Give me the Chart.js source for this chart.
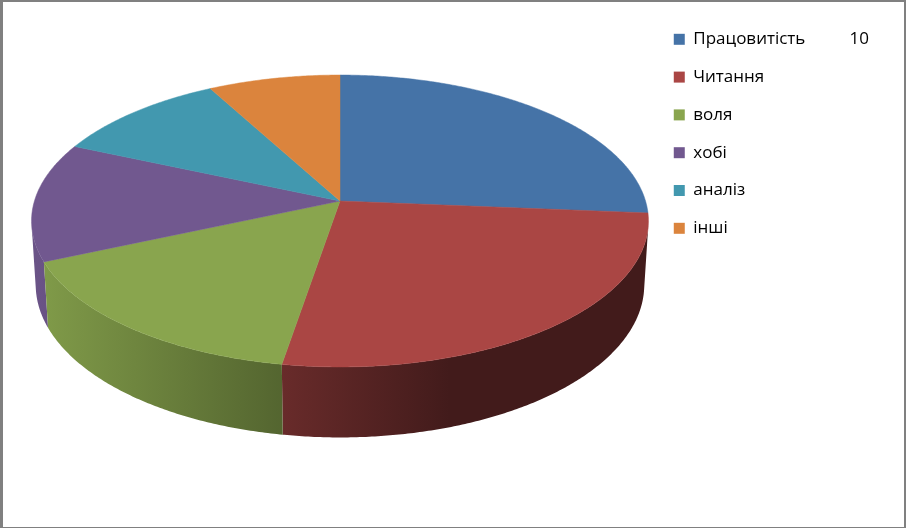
<!DOCTYPE html>
<html lang="uk">

<head>
    <meta charset="UTF-8">
    <title>Pie 3D</title>
    <script src="https://cdn.jsdelivr.net/npm/chart.js"></script>
    <style>
        html, body { margin: 0; padding: 0; background: #fff; }
        #wrap { position: relative; width: 906px; height: 528px; overflow: hidden; }
        #pie { position: absolute; left: 0; top: 0; }
        #frame {
            position: absolute; left: 0; top: 0; width: 906px; height: 528px; box-sizing: border-box;
            border-style: solid; border-color: #808080; border-width: 2px 2px 1px 3px; pointer-events: none;
        }
    </style>
</head>

<body>
    <div id="wrap">
        <canvas id="pie" width="906" height="528"></canvas>
        <div id="frame"></div>
    </div>
    <script>
        const categories = ['Працовитість\u00A0\u00A0\u00A0\u00A0\u00A0\u00A0\u00A0\u00A0\u00A0\u00A010', 'Читання', 'воля', 'хобі', 'аналіз', 'інші'];
        const values = [10, 10, 6, 5, 4, 3];
        const colors = ['#4573A7', '#AA4644', '#89A54E', '#71588F', '#4298AF', '#DB843D'];

        // perspective of the tilted disc, in units of the arc's outerRadius
        const persp = { k: 0.137, c: 0.0135, a: 1.5997, b: 0.7498, d: 0.3352 };

        function project(el, angle, h) {
            // chart.js angles: -PI/2 is 12 o'clock
            const u = Math.cos(angle), v = Math.sin(angle);
            const R = el.outerRadius;
            const w = 1 - persp.k * v + persp.c * h;
            return {
                x: el.x + persp.a * R * u / w,
                y: el.y + (persp.b * R * v + persp.d * R * h) / w
            };
        }

        function shade(hex, f) {
            const n = parseInt(hex.slice(1), 16);
            return 'rgb(' + Math.round((n >> 16) * f) + ',' + Math.round(((n >> 8) & 255) * f) + ',' + Math.round((n & 255) * f) + ')';
        }

        // wall gets darker to the right, flat after about x=450
        function wallGradient(ctx, col) {
            const g = ctx.createLinearGradient(30, 0, 450, 0);
            g.addColorStop(0, shade(col, 0.95));
            g.addColorStop(1, shade(col, 0.39));
            return g;
        }

        function angleList(from, to) {
            const step = Math.PI / 360;
            const list = [];
            for (let a = from; a < to; a += step) list.push(a);
            list.push(to);
            return list;
        }

        // true while the wall at this angle faces the viewer, the wall folds over where it flips
        function facing(el, a) {
            const d = 0.001;
            const p0 = project(el, a - d, 0), p1 = project(el, a + d, 0);
            const t = project(el, a, 0), b = project(el, a, 1);
            return (p1.x - p0.x) * (b.y - t.y) - (p1.y - p0.y) * (b.x - t.x) < 0;
        }

        const pie3d = {
            id: 'pie3d',
            beforeDatasetDraw(chart, args) {
                const ctx = chart.ctx;
                const arcs = args.meta.data;
                ctx.save();

                // side walls, back to front
                const order = arcs.slice().sort((p, q) =>
                    Math.sin((p.startAngle + p.endAngle) / 2) - Math.sin((q.startAngle + q.endAngle) / 2));
                order.forEach(el => {
                    const runs = [];
                    let run = [];
                    angleList(el.startAngle, el.endAngle).forEach(a => {
                        if (facing(el, a)) {
                            run.push(a);
                        } else if (run.length) {
                            runs.push(run);
                            run = [];
                        }
                    });
                    if (run.length) runs.push(run);

                    runs.forEach(r => {
                        ctx.beginPath();
                        r.forEach(a => {
                            const p = project(el, a, 0);
                            ctx.lineTo(p.x, p.y);
                        });
                        r.slice().reverse().forEach(a => {
                            const p = project(el, a, 1);
                            ctx.lineTo(p.x, p.y);
                        });
                        ctx.closePath();
                        ctx.fillStyle = wallGradient(ctx, el.options.backgroundColor);
                        ctx.fill();
                    });
                });

                // top faces
                arcs.forEach(el => {
                    const col = el.options.backgroundColor;
                    ctx.beginPath();
                    ctx.moveTo(el.x, el.y);
                    angleList(el.startAngle, el.endAngle).forEach(a => {
                        const p = project(el, a, 0);
                        ctx.lineTo(p.x, p.y);
                    });
                    ctx.closePath();
                    ctx.fillStyle = col;
                    ctx.strokeStyle = col;
                    ctx.lineWidth = 0.5;
                    ctx.fill();
                    ctx.stroke();
                });
                ctx.restore();
                return false;
            }
        };

        new Chart(document.getElementById('pie'), {
            type: 'pie',
            data: {
                labels: categories,
                datasets: [{
                    data: values,
                    backgroundColor: colors,
                    borderWidth: 0
                }]
            },
            options: {
                responsive: false,
                animation: false,
                events: [],
                layout: { padding: { left: 27, top: 10, right: 27, bottom: 136 } },
                plugins: {
                    tooltip: { enabled: false },
                    legend: {
                        position: 'right',
                        align: 'start',
                        labels: {
                            boxWidth: 11,
                            boxHeight: 11,
                            padding: 20.8,
                            color: '#000',
                            font: { family: '"Open Sans"', size: 17 }
                        }
                    }
                }
            },
            plugins: [pie3d]
        });
    </script>
</body>

</html>
